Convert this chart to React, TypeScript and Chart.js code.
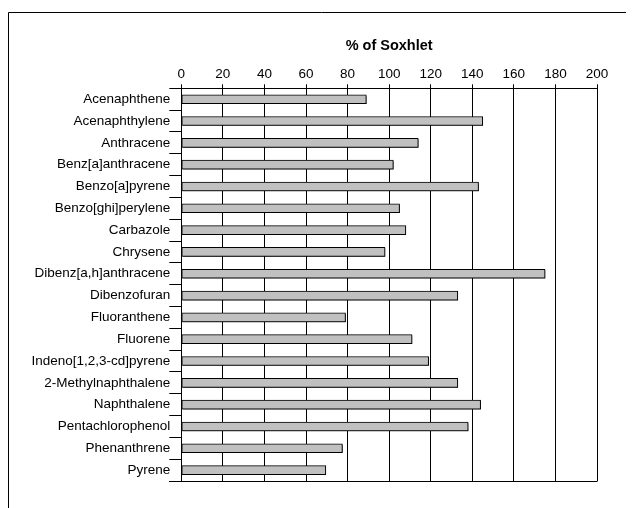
import React, { useEffect, useRef } from "react";
import { Chart, registerables } from "chart.js";

Chart.register(...registerables);

const categories = [
  "Acenaphthene",
  "Acenaphthylene",
  "Anthracene",
  "Benz[a]anthracene",
  "Benzo[a]pyrene",
  "Benzo[ghi]perylene",
  "Carbazole",
  "Chrysene",
  "Dibenz[a,h]anthracene",
  "Dibenzofuran",
  "Fluoranthene",
  "Fluorene",
  "Indeno[1,2,3-cd]pyrene",
  "2-Methylnaphthalene",
  "Naphthalene",
  "Pentachlorophenol",
  "Phenanthrene",
  "Pyrene",
];

const percentOfSoxhlet = [
  89, 145, 114, 102, 143, 105, 108, 98, 175, 133, 79, 111, 119, 133, 144, 138, 77.5, 69.5,
];

const axisMin = 0;
const axisMax = 200;
const axisStep = 20;
const titleText = "% of Soxhlet";

const FONT = "'Liberation Sans', Arial, sans-serif";

export default function App() {
  const ref = useRef<HTMLCanvasElement>(null);

  useEffect(() => {
    if (!ref.current) return;

    const framePlugin = {
      id: "frame",
      afterDraw(chart: any) {
        const ctx = chart.ctx;
        const { left, right, bottom } = chart.chartArea;
        ctx.save();
        ctx.strokeStyle = "#000";
        ctx.lineWidth = 1;
        ctx.beginPath();
        const by = Math.round(bottom) + 0.5;
        ctx.moveTo(Math.round(left) - 12, by);
        ctx.lineTo(Math.round(right) + 0.5, by);
        ctx.stroke();
        ctx.beginPath();
        ctx.moveTo(0.5, chart.height);
        ctx.lineTo(0.5, 4.5);
        ctx.lineTo(chart.width, 4.5);
        ctx.stroke();
        ctx.restore();
      },
    };

    const shadowPlugin = {
      id: "barShadow",
      beforeDatasetsDraw(chart: any) {
        const ctx = chart.ctx;
        ctx.save();
        ctx.shadowColor = "rgba(0,0,0,0.55)";
        ctx.shadowOffsetX = 1;
        ctx.shadowOffsetY = 1;
        ctx.shadowBlur = 0;
      },
      afterDatasetsDraw(chart: any) {
        chart.ctx.restore();
      },
    };

    const chart = new Chart(ref.current, {
      type: "bar",
      data: {
        labels: categories,
        datasets: [
          {
            data: percentOfSoxhlet,
            backgroundColor: "#c0c0c0",
            borderColor: "#000",
            borderWidth: 1,
            borderSkipped: false,
            barThickness: 9,
          },
        ],
      },
      options: {
        indexAxis: "y",
        responsive: false,
        animation: false,
        layout: { padding: { top: 4, right: 37, bottom: 27, left: 0 } },
        plugins: {
          legend: { display: false },
          tooltip: { enabled: false },
          title: { display: false },
        },
        scales: {
          x: {
            position: "top",
            min: axisMin,
            max: axisMax,
            ticks: {
              stepSize: axisStep,
              color: "#000",
              padding: 2,
              font: { family: FONT, size: 13.5 },
            },
            grid: {
              color: "#000",
              tickLength: 4,
              drawTicks: true,
            },
            border: { display: true, color: "#000" },
            title: {
              display: true,
              text: titleText,
              color: "#000",
              font: { family: FONT, size: 14.5, weight: "bold" },
              padding: { top: 25, bottom: 0 },
            },
            afterFit(scale: any) {
              scale.height = 76.3;
            },
          },
          y: {
            ticks: {
              color: "#000",
              padding: -1,
              font: { family: FONT, size: 13.5 },
            },
            grid: {
              color: "#000",
              drawOnChartArea: false,
              drawTicks: true,
              tickLength: 12,
              offset: true,
            },
            border: { display: true, color: "#000" },
            afterFit(scale: any) {
              scale.width = 173.3;
            },
          },
        },
      },
      plugins: [framePlugin, shadowPlugin],
    });

    return () => chart.destroy();
  }, []);

  return (
    <div style={{ width: 626, height: 500 }}>
      <canvas ref={ref} width={626} height={500} style={{ display: "block" }} />
    </div>
  );
}
